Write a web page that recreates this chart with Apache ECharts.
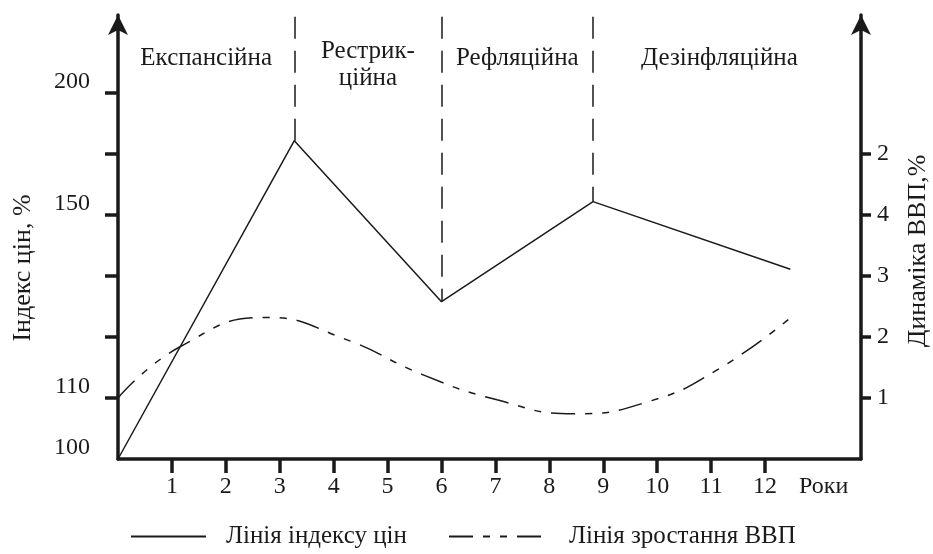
<!DOCTYPE html>
<html>
<head>
<meta charset="utf-8">
<script src="https://cdn.jsdelivr.net/npm/echarts@6/dist/echarts.min.js"></script>
<style>
  html, body { margin: 0; padding: 0; background: #fff; }
  #chart { width: 933px; height: 554px; }
</style>
</head>
<body>
<div id="chart"></div>
<script>
// schematic chart: y values are in "tick steps" (one step per axis tick)
const priceYears = [0, 3.27, 6.0, 8.81, 12.47]
const priceLevel = [0, 5.22, 2.58, 4.22, 3.11]

const gdpYears = [0, 1.15, 2.76, 4.2, 5.66, 7.03, 8.44, 9.87, 11.11, 12.45]
const gdpLevel = [1.0, 1.84, 2.32, 1.97, 1.38, 0.97, 0.74, 0.95, 1.46, 2.30]

const yearTicks = [1, 2, 3, 4, 5, 6, 7, 8, 9, 10, 11, 12]

const leftTicks = [1, 2, 3, 4, 5, 6]
const leftLabelPos = [0, 1, 4, 6]
const leftLabels = ['100', '110', '150', '200']

const rightTicks = [1, 2, 3, 4, 5]
const rightLabels = ['1', '2', '3', '4', '2']

const phaseNames = ['Експансійна', 'Рестрик-\nційна', 'Рефляційна', 'Дезінфляційна']
const phaseBounds = [0, 3.27, 6.0, 8.81, 13.5]
// vertical dashed boundaries start at these turning points
const boundaryIdx = [1, 2, 3]

const FONT = 'Liberation Serif'
const INK = '#1a1a1a'
const TOP = 7.25

const chart = echarts.init(document.getElementById('chart'))

const toPairs = (xs, ys) => xs.map((x, i) => [x, ys[i]])

const axisBase = {
  type: 'value',
  min: 0,
  max: 7.28,
  splitLine: { show: false },
  axisLine: {
    show: true,
    symbol: ['none', 'arrow'],
    symbolSize: [15, 20],
    lineStyle: { color: INK, width: 3.5 }
  },
  axisTick: { show: true, length: 13, lineStyle: { color: INK, width: 3.5 } },
  nameLocation: 'middle',
  nameRotate: 90,
  nameTextStyle: { fontFamily: FONT, fontSize: 26, color: INK }
}

const legendText = { fontFamily: FONT, fontSize: 25, color: INK, padding: [0, 0, 0, 15] }

chart.setOption({
  animation: false,
  grid: { left: 118, right: 72, top: 15, bottom: 95, outerBoundsMode: 'none' },
  legend: [
    {
      data: ['Лінія індексу цін'],
      left: 130, top: 524, padding: 0,
      itemWidth: 75, itemHeight: 14,
      itemStyle: { opacity: 0 },
      textStyle: legendText
    },
    {
      data: ['Лінія зростання ВВП'],
      left: 448, top: 524, padding: 0,
      itemWidth: 100, itemHeight: 14,
      itemStyle: { opacity: 0 },
      textStyle: legendText
    }
  ],
  xAxis: {
    type: 'value',
    min: 0,
    max: 13.78,
    splitLine: { show: false },
    axisLine: { show: true, lineStyle: { color: INK, width: 3.5 } },
    axisTick: { show: true, length: 14, customValues: yearTicks, lineStyle: { color: INK, width: 3.5 } },
    axisLabel: {
      customValues: yearTicks,
      margin: 16,
      fontFamily: FONT, fontSize: 24, color: INK
    },
    name: 'Роки',
    nameLocation: 'end',
    nameGap: -62,
    nameTextStyle: { fontFamily: FONT, fontSize: 24, color: INK, align: 'left', verticalAlign: 'top', padding: [16, 0, 0, 0] }
  },
  yAxis: [
    Object.assign({}, axisBase, {
      position: 'left',
      name: 'Індекс цін, %',
      nameGap: 82,
      nameTextStyle: Object.assign({}, axisBase.nameTextStyle, { padding: [0, 62, 0, 0] }),
      axisTick: Object.assign({}, axisBase.axisTick, { customValues: leftTicks }),
      axisLabel: {
        customValues: leftLabelPos,
        formatter: v => leftLabels[leftLabelPos.indexOf(v)],
        margin: 28,
        verticalAlign: 'bottom',
        lineHeight: 22,
        fontFamily: FONT, fontSize: 24, color: INK
      }
    }),
    Object.assign({}, axisBase, {
      position: 'right',
      name: 'Динаміка ВВП,%',
      nameGap: 44,
      nameTextStyle: Object.assign({}, axisBase.nameTextStyle, { padding: [0, 28, 0, 0] }),
      axisTick: Object.assign({}, axisBase.axisTick, { length: 10, customValues: rightTicks }),
      axisLabel: {
        customValues: rightTicks,
        formatter: v => rightLabels[rightTicks.indexOf(v)],
        margin: 16,
        fontFamily: FONT, fontSize: 24, color: INK
      }
    })
  ],
  series: [
    {
      name: 'Лінія індексу цін',
      type: 'line',
      symbol: 'none',
      data: toPairs(priceYears, priceLevel),
      lineStyle: { color: INK, width: 1.5 },
      itemStyle: { color: INK },
      markLine: {
        silent: true,
        symbol: 'none',
        label: { show: false },
        lineStyle: { color: INK, width: 1.5, type: [22, 12] },
        data: boundaryIdx.map(i => [
          { coord: [priceYears[i], TOP] },
          { coord: [priceYears[i], priceLevel[i]] }
        ])
      },
      markArea: {
        silent: true,
        itemStyle: { color: 'rgba(0,0,0,0)' },
        label: {
          position: 'insideTop',
          distance: 30,
          fontFamily: FONT, fontSize: 25, color: INK, lineHeight: 27
        },
        data: phaseNames.map((n, i) => [
          { name: n, xAxis: phaseBounds[i], label: i === 1 ? { distance: 23 } : undefined },
          { xAxis: phaseBounds[i + 1] }
        ])
      }
    },
    {
      name: 'Лінія зростання ВВП',
      type: 'line',
      yAxisIndex: 1,
      symbol: 'none',
      smooth: 0.5,
      data: toPairs(gdpYears, gdpLevel),
      lineStyle: { color: INK, width: 1.5, type: [24, 10, 7, 10, 7, 10] },
      itemStyle: { color: INK }
    }
  ]
})
</script>
</body>
</html>
